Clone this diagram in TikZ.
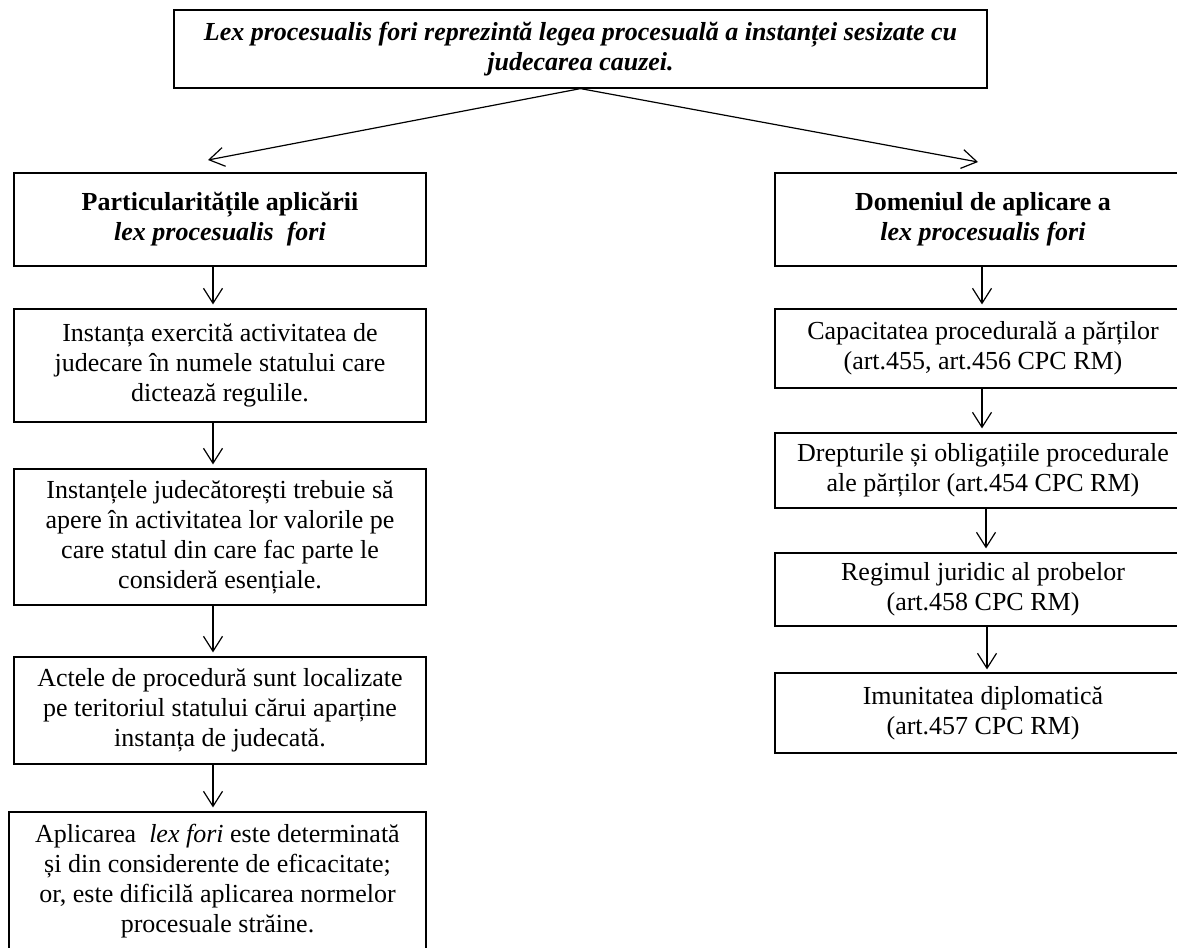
\documentclass[tikz,border=0pt]{standalone}
\usepackage{fontspec}
\setmainfont{Liberation Serif}
\usetikzlibrary{arrows.meta}
\tikzset{
  box/.style={draw=black, line width=1.2pt, align=center, inner sep=0pt,
    font=\fontsize{26}{30}\selectfont},
  leftbox/.style={box, minimum width=412pt},
  rightbox/.style={box, minimum width=416pt},
  arr/.style={line width=1.2pt, -{Straight Barb[length=15pt,width=19pt,line width=1.2pt]}},
}
\begin{document}
\begin{tikzpicture}[x=1pt,y=-1pt]
\path[use as bounding box, clip] (0,0) rectangle (1177,947);
\fill[white] (0,0) rectangle (1177,947);

% top box
\node[box, minimum width=813pt, minimum height=78pt] (top) at (580.5,49)
  {\textbf{\textit{Lex procesualis fori reprezintă legea procesuală a instanței sesizate cu}}\\
   \textbf{\textit{judecarea cauzei.}}};

% left column
\node[leftbox, minimum height=93pt] (l1) at (220,219.5)
  {\textbf{Particularitățile aplicării}\\ \textbf{\textit{lex procesualis\ \ fori}}};
\node[leftbox, minimum height=113pt] (l2) at (220,365.5)
  {Instanța exercită activitatea de\\ judecare în numele statului care\\ dictează regulile.};
\node[leftbox, minimum height=136pt] (l3) at (220,537)
  {Instanțele judecătorești trebuie să\\ apere în activitatea lor valorile pe\\ care statul din care fac parte le\\ consideră esențiale.};
\node[leftbox, minimum height=107pt] (l4) at (220,710.5)
  {Actele de procedură sunt localizate\\ pe teritoriul statului cărui aparține\\ instanța de judecată.};
\node[box, minimum width=417pt, minimum height=138pt] (l5) at (217.5,881)
  {Aplicarea\ \ \textit{lex fori} este determinată\\ și din considerente de eficacitate;\\ or, este dificilă aplicarea normelor\\ procesuale străine.};

% right column
\node[rightbox, minimum height=93pt] (r1) at (983,219.5)
  {\textbf{Domeniul de aplicare a}\\ \textbf{\textit{lex procesualis fori}}};
\node[rightbox, minimum height=79pt] (r2) at (983,348.5)
  {Capacitatea procedurală a părților\\ (art.455, art.456 CPC RM)};
\node[rightbox, minimum height=75pt] (r3) at (983,470.5)
  {Drepturile și obligațiile procedurale\\ ale părților (art.454 CPC RM)};
\node[rightbox, minimum height=73pt] (r4) at (983,589.5)
  {Regimul juridic al probelor\\ (art.458 CPC RM)};
\node[rightbox, minimum height=80pt] (r5) at (983,713)
  {Imunitatea diplomatică\\ (art.457 CPC RM)};

% top arrows
\coordinate (tl) at (208,160);
\coordinate (tr) at (978,162);
\draw[arr] (top.south) -- (tl);
\draw[arr] (top.south) -- (tr);

% left arrows
\draw[arr, shorten >=4pt] ([xshift=-7pt]l1.south) -- ([xshift=-7pt]l2.north);
\draw[arr, shorten >=4pt] ([xshift=-7pt]l2.south) -- ([xshift=-7pt]l3.north);
\draw[arr, shorten >=4pt] ([xshift=-7pt]l3.south) -- ([xshift=-7pt]l4.north);
\draw[arr, shorten >=4pt] ([xshift=-7pt]l4.south) -- ([xshift=-4.5pt]l5.north);

% right arrows
\draw[arr, shorten >=4pt] ([xshift=-1pt]r1.south) -- ([xshift=-1pt]r2.north);
\draw[arr, shorten >=4pt] ([xshift=-1pt]r2.south) -- ([xshift=-1pt]r3.north);
\draw[arr, shorten >=4pt] ([xshift=3pt]r3.south) -- ([xshift=3pt]r4.north);
\draw[arr, shorten >=3pt] ([xshift=4pt]r4.south) -- ([xshift=4pt]r5.north);
\end{tikzpicture}
\end{document}
